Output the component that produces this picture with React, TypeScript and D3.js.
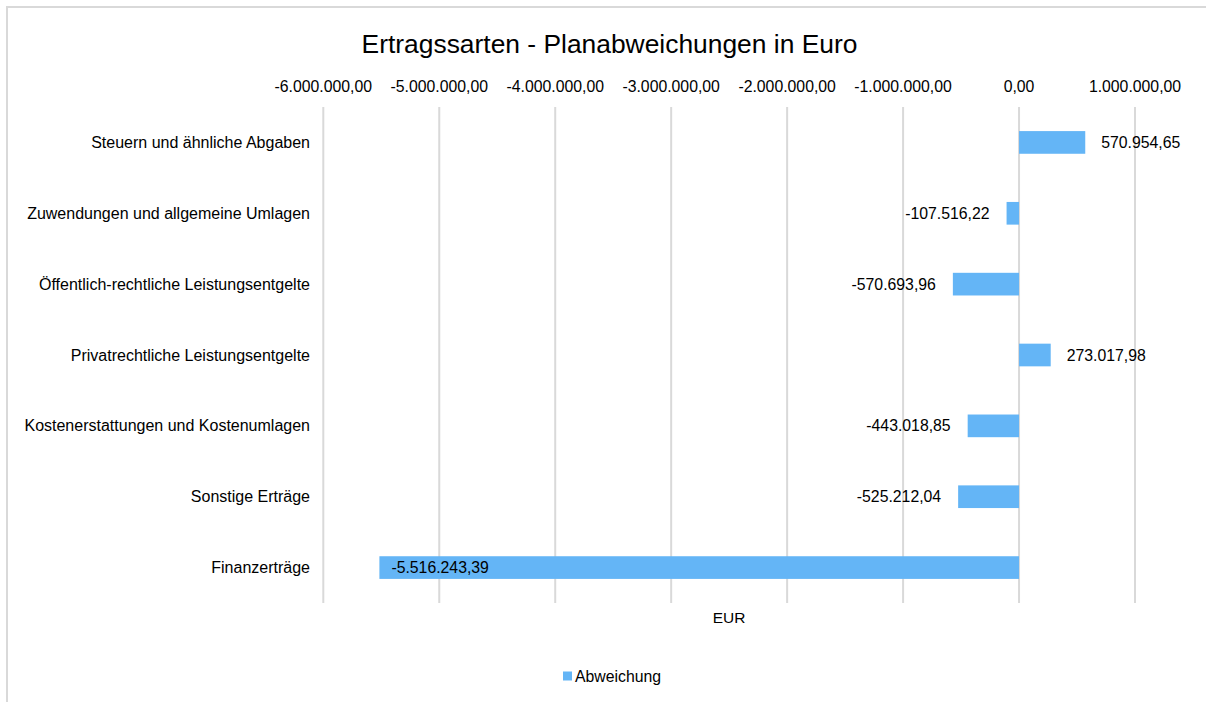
import React from "react";
import * as d3 from "d3";

const categories = [
  "Steuern und ähnliche Abgaben",
  "Zuwendungen und allgemeine Umlagen",
  "Öffentlich-rechtliche Leistungsentgelte",
  "Privatrechtliche Leistungsentgelte",
  "Kostenerstattungen und Kostenumlagen",
  "Sonstige Erträge",
  "Finanzerträge",
];
const values = [570954.65, -107516.22, -570693.96, 273017.98, -443018.85, -525212.04, -5516243.39];
const tickValues = [-6000000, -5000000, -4000000, -3000000, -2000000, -1000000, 0, 1000000];
const title = "Ertragssarten - Planabweichungen in Euro";
const axisTitle = "EUR";
const seriesName = "Abweichung";

const W = 1206;
const H = 702;
const FONT = "'Liberation Sans', Arial, sans-serif";
const BAR = "#64b5f6";
const GRID = "#d9d9d9";

const de = d3.formatLocale({ decimal: ",", thousands: ".", grouping: [3], currency: ["", " €"], minus: "-" });
const fmt = de.format(",.2f");

export default function App() {
  const x = d3.scaleLinear().domain([-6000000, 1000000]).range([323.3, 1135]);
  const y = d3.scaleBand<string>().domain(categories).range([107, 603]).paddingInner(0.68).paddingOuter(0.34);
  const bw = y.bandwidth();

  return (
    <div style={{ position: "fixed", left: 0, top: 0, width: W, height: H, background: "#fff" }}>
      <svg width={W} height={H} style={{ display: "block" }} fontFamily={FONT}>
        <rect x={7} y={7} width={W + 10} height={H + 10} fill="#fff" stroke={GRID} strokeWidth={2} />
        <text x={609.5} y={52.5} textAnchor="middle" fontSize={26.4} fill="#000">{title}</text>
        {tickValues.map((t) => (
          <g key={t}>
            <line x1={x(t)} x2={x(t)} y1={107} y2={603} stroke={GRID} strokeWidth={2} />
            <text x={x(t)} y={92} textAnchor="middle" fontSize={15.8} fill="#000">{fmt(t)}</text>
          </g>
        ))}
        {categories.map((c, i) => {
          const v = values[i];
          const x0 = x(Math.min(0, v));
          const x1 = x(Math.max(0, v));
          const cy = (y(c) as number) + bw / 2;
          const label = fmt(v);
          let lx: number;
          let anchor: "start" | "end";
          if (v >= 0) {
            lx = x1 + 16;
            anchor = "start";
          } else if (x0 - 17 - 100 < x(-6000000)) {
            lx = x0 + 12;
            anchor = "start";
          } else {
            lx = x0 - 17;
            anchor = "end";
          }
          return (
            <g key={c}>
              <text x={310} y={cy + 5.5} textAnchor="end" fontSize={16} fill="#000">{c}</text>
              <rect x={x0} y={y(c)} width={x1 - x0} height={bw} fill={BAR} />
              <text x={lx} y={cy + 5.5} textAnchor={anchor} fontSize={15.8} fill="#000">{label}</text>
            </g>
          );
        })}
        <text x={729} y={623} textAnchor="middle" fontSize={15.5} fill="#000">{axisTitle}</text>
        <rect x={563} y={671.5} width={9} height={9} fill={BAR} />
        <text x={575} y={681.5} fontSize={15.8} fill="#000">{seriesName}</text>
      </svg>
    </div>
  );
}
